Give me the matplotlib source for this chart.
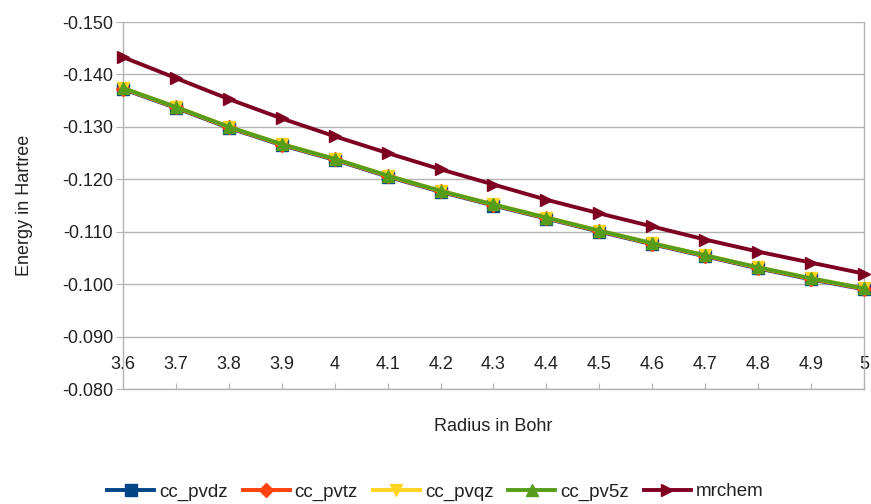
import matplotlib
matplotlib.use("Agg")
import matplotlib.pyplot as plt
from matplotlib.ticker import FixedLocator, FuncFormatter

plt.rcParams['font.family'] = ['Liberation Sans', 'DejaVu Sans']

radius = [3.6, 3.7, 3.8, 3.9, 4.0, 4.1, 4.2, 4.3, 4.4, 4.5, 4.6, 4.7, 4.8, 4.9, 5.0]
x_tick_labels = ["3.6", "3.7", "3.8", "3.9", "4", "4.1", "4.2", "4.3", "4.4", "4.5",
                 "4.6", "4.7", "4.8", "4.9", "5"]

cc_pvdz = [-0.1372, -0.1336, -0.1298, -0.1265, -0.1237, -0.1205, -0.1176, -0.1150,
           -0.1125, -0.1100, -0.1076, -0.1053, -0.1030, -0.1009, -0.0990]
cc_pvtz = [-0.1373, -0.1337, -0.1299, -0.1266, -0.1238, -0.1206, -0.1177, -0.1151,
           -0.1126, -0.1101, -0.1077, -0.1054, -0.1031, -0.1010, -0.0991]
cc_pvqz = [-0.1374, -0.1338, -0.1300, -0.1267, -0.1239, -0.1207, -0.1178, -0.1152,
           -0.1127, -0.1102, -0.1078, -0.1055, -0.1032, -0.1011, -0.0992]
cc_pv5z = [-0.1374, -0.1338, -0.1300, -0.1267, -0.1239, -0.1207, -0.1178, -0.1152,
           -0.1127, -0.1102, -0.1078, -0.1055, -0.1032, -0.1011, -0.0992]
mrchem = [-0.1433, -0.1393, -0.1353, -0.1316, -0.1282, -0.1250, -0.1219, -0.1190,
          -0.1161, -0.1135, -0.1110, -0.1085, -0.1062, -0.1041, -0.1020]

series = [
    ("cc_pvdz", cc_pvdz, "#004586", "s"),
    ("cc_pvtz", cc_pvtz, "#ff420e", "D"),
    ("cc_pvqz", cc_pvqz, "#ffd320", "v"),
    ("cc_pv5z", cc_pv5z, "#579d1c", "^"),
    ("mrchem", mrchem, "#7e0021", ">"),
]

grey = "#b3b3b3"
text_col = "#222222"

fig = plt.figure(figsize=(8.71, 5.04), dpi=100)
ax = fig.add_axes([123 / 871, 1 - 389 / 504, (864 - 123) / 871, (389 - 22) / 504])

for name, vals, col, mk in series:
    ms = 8.5 if mk != "D" else 7
    ax.plot(radius, vals, color=col, lw=2.8, marker=mk, ms=ms,
            markeredgecolor=col, label=name, clip_on=False, zorder=3)

ax.set_xlim(3.6, 5.0)
ax.set_ylim(-0.080, -0.150)
ax.yaxis.set_major_locator(FixedLocator([-0.150, -0.140, -0.130, -0.120, -0.110,
                                         -0.100, -0.090, -0.080]))
ax.yaxis.set_major_formatter(FuncFormatter(lambda v, p: f"{v:.3f}"))
ax.set_xticks(radius)
ax.set_xticklabels(x_tick_labels)

ax.grid(axis="y", color=grey, lw=1)
ax.grid(axis="x", visible=False)
ax.set_axisbelow(True)

for side in ("left", "right", "bottom"):
    ax.spines[side].set_color(grey)
    ax.spines[side].set_linewidth(1)
ax.spines["top"].set_visible(False)

ax.tick_params(axis="y", direction="out", length=5, color=grey, labelsize=13,
               labelcolor=text_col, pad=2)
ax.tick_params(axis="x", direction="in", length=4.5, color=grey, labelsize=13,
               labelcolor=text_col, pad=-24)

ax.set_ylabel("Energy in Hartree", fontsize=13, color=text_col, labelpad=21)
ax.set_xlabel("Radius in Bohr", fontsize=13, color=text_col, labelpad=21)

fig.legend(loc="center", bbox_to_anchor=(0.5, 1 - 492 / 504), ncol=5, frameon=False,
           fontsize=13.5, handlelength=2.5, handletextpad=0.27, columnspacing=0.8,
           labelcolor=text_col)

fig.savefig("out.png", dpi=100)
